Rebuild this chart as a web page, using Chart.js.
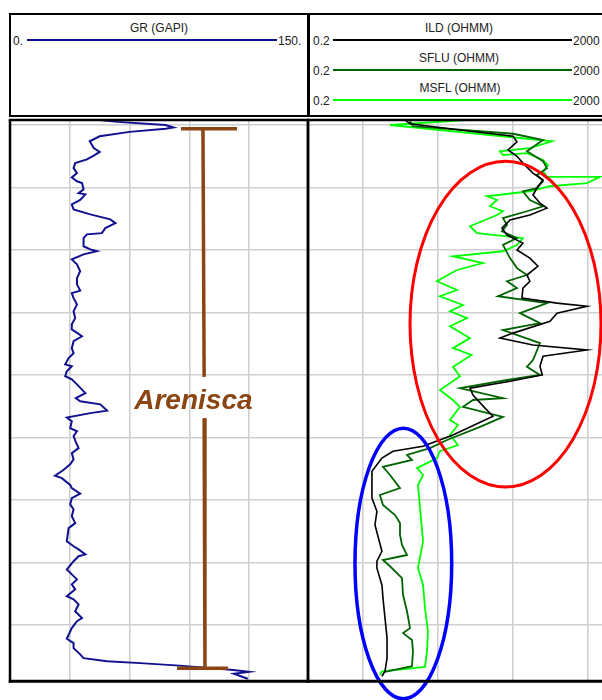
<!DOCTYPE html>
<html>
<head>
<meta charset="utf-8">
<script src="https://cdn.jsdelivr.net/npm/chart.js@4.4.0/dist/chart.umd.min.js"></script>
<style>
  html, body { margin: 0; padding: 0; background: #fff; }
  #page { position: relative; width: 602px; height: 700px; overflow: hidden;
          font-family: "Liberation Sans", Arial, sans-serif; font-size: 12px; color: #222; }
  .box { position: absolute; box-sizing: border-box; }
  .hline { position: absolute; height: 2px; }
  .lbl { position: absolute; line-height: 12px; white-space: nowrap; }
  .ctr { width: 200px; text-align: center; }
  canvas { position: absolute; }
</style>
</head>
<body>
<div id="page">
  <!-- cabeçalho -->
  <div class="box" style="left:9px;top:13px;width:640px;height:104px;border-top:2px solid #000;border-bottom:2px solid #000;border-left:2.5px solid #000;"></div>
  <div class="box" style="left:307px;top:13px;width:2.5px;height:104px;background:#000;"></div>

  <div class="lbl ctr" style="left:59px;top:22px;">GR (GAPI)</div>
  <div class="lbl" style="left:13px;top:35px;">0.</div>
  <div class="hline" style="left:27px;top:38.5px;width:250px;background:#101090;"></div>
  <div class="lbl" style="left:278px;top:35px;">150.</div>

  <div class="lbl ctr" style="left:359px;top:22px;">ILD (OHMM)</div>
  <div class="lbl" style="left:313px;top:35px;">0.2</div>
  <div class="hline" style="left:333px;top:38.5px;width:239px;background:#000;"></div>
  <div class="lbl" style="left:573px;top:35px;">2000</div>

  <div class="lbl ctr" style="left:359px;top:52px;">SFLU (OHMM)</div>
  <div class="lbl" style="left:313px;top:65px;">0.2</div>
  <div class="hline" style="left:333px;top:68.5px;width:239px;background:#006400;"></div>
  <div class="lbl" style="left:573px;top:65px;">2000</div>

  <div class="lbl ctr" style="left:360px;top:82px;">MSFL (OHMM)</div>
  <div class="lbl" style="left:313px;top:95px;">0.2</div>
  <div class="hline" style="left:333px;top:98.5px;width:239px;background:#00ff00;"></div>
  <div class="lbl" style="left:573px;top:95px;">2000</div>

  <canvas id="trilhaGR" width="312" height="590" style="left:0px;top:110px;"></canvas>
  <canvas id="trilhaRes" width="320" height="590" style="left:300px;top:110px;"></canvas>
</div>

<script>
// --- eixos ---
const depthTop = 1999.2;
const depthBase = 2088.8;
const depthTicks = [2000, 2010, 2020, 2030, 2040, 2050, 2060, 2070, 2080];
const grTicks = [30, 60, 90, 120];
const resTicks = [1, 10, 100, 1000];

// --- GR (GAPI) ---
const grDepth = [1999.2, 1999.5, 2000.0, 2000.4, 2000.6, 2001.1, 2001.8, 2002.6, 2003.7, 2004.3, 2004.9, 2005.5,
  2006.1, 2006.9, 2007.7, 2008.4, 2009.0, 2009.3, 2010.3, 2010.9, 2011.1, 2012.0, 2012.7, 2013.5, 2014.3, 2015.1,
  2015.7, 2016.5, 2017.3, 2017.5, 2018.1, 2019.4, 2019.9, 2020.2, 2020.7, 2021.5, 2022.3, 2023.4, 2024.5, 2025.5,
  2026.5, 2026.9, 2027.7, 2028.7, 2029.8, 2030.9, 2031.9, 2032.7, 2033.8, 2034.6, 2035.7, 2036.5, 2037.3, 2038.3,
  2038.6, 2039.4, 2040.2, 2040.7, 2041.5, 2042.9, 2043.7, 2044.2, 2044.7, 2045.7, 2046.1, 2046.8, 2047.4, 2048.5,
  2049.0, 2049.8, 2050.7, 2051.7, 2052.5, 2053.5, 2054.3, 2055.2, 2056.1, 2056.5, 2057.6, 2058.1, 2059.0, 2059.7,
  2060.7, 2061.5, 2062.6, 2063.7, 2064.5, 2066.6, 2067.4, 2067.9, 2068.7, 2069.0, 2069.8, 2071.1, 2071.9, 2072.7,
  2073.5, 2074.3, 2075.4, 2075.9, 2076.7, 2077.8, 2078.9, 2079.4, 2080.5, 2082.2, 2082.9, 2083.7, 2084.7, 2085.3,
  2085.8, 2086.1, 2086.5, 2087.2, 2087.5, 2087.8, 2088.6];
const grValue = [45, 54, 78, 82, 78, 60, 45, 40, 42, 45, 42, 38.6,
  32.7, 31.9, 33.6, 31.0, 33.6, 36.1, 36.9, 34.4, 37.8, 35.2, 31.0, 31.9, 40.3, 50.3,
  52.9, 47.8, 46.1, 38.6, 36.9, 36.9, 40.3, 43.6, 36.9, 31.0, 33.6, 35.2, 33.6, 33.6,
  35.2, 31.0, 31.9, 33.6, 31.9, 32.7, 31.0, 31.0, 36.1, 31.9, 31.0, 31.9, 29.4, 27.7,
  31.0, 28.5, 27.7, 31.0, 33.6, 37.8, 33.0, 35.2, 45.3, 48.7, 40.3, 28.5, 31.0, 30.2,
  33.6, 31.9, 33.0, 34.4, 31.0, 31.9, 30.2, 26.8, 22.6, 26.0, 30.2, 31.0, 35.2, 31.0,
  30.2, 31.9, 31.0, 32.7, 29.4, 28.5, 31.9, 34.4, 37.8, 34.4, 31.9, 28.5, 31.0, 33.6,
  31.0, 32.7, 28.5, 31.9, 34.4, 32.7, 36.1, 33.6, 31.0, 28.5, 31.9, 31.9, 35.2, 36.9,
  48.7, 65.4, 85, 112, 119.8, 112.3, 119.3];

// --- ILD (OHMM) ---
const ildDepth = [1999.2, 1999.8, 2000.8, 2001.8, 2002.7, 2004.0, 2005.0, 2006.1, 2007.7, 2008.8, 2009.8, 2011.2,
  2012.5, 2013.3, 2014.4, 2015.2, 2016.5, 2017.6, 2018.9, 2020.0, 2021.3, 2022.6, 2024.0, 2025.0, 2026.1, 2027.7,
  2028.5, 2029.0, 2030.1, 2031.4, 2033.3, 2034.1, 2035.2, 2036.0, 2037.0, 2038.6, 2040.0, 2041.0, 2042.1, 2043.2,
  2045.3, 2046.6, 2049.6, 2051.4, 2052.2, 2053.3, 2055.4, 2059.7, 2061.8, 2064.0, 2068.2, 2069.8, 2070.9, 2073.6,
  2075.7, 2078.9, 2082.1, 2085.3, 2087.4, 2088.2];
const ildValue = [3.7, 4.31, 20.0, 102, 115, 87.3, 115, 138, 188, 256, 219, 188,
  233, 289, 171, 92.9, 72.6, 84.7, 138, 115, 171, 219, 156, 171, 138, 134,
  393, 986, 393, 317, 102, 68.2, 188, 986, 256, 233, 250, 92.9, 27.2, 29.8,
  43.1, 55.1, 16.1, 6.43, 2.56, 1.82, 1.34, 1.34, 1.56, 1.47, 1.82, 1.56, 1.56, 1.82,
  1.88, 2.0, 2.13, 2.13, 2.0, 1.82];

// --- SFLU (OHMM) ---
const sfluDepth = [1999.4, 2000.2, 2001.4, 2002.4, 2004.2, 2005.8, 2006.9, 2008.0, 2009.0, 2010.1, 2010.6, 2012.0,
  2013.0, 2013.8, 2014.9, 2016.0, 2017.0, 2018.1, 2019.2, 2021.3, 2022.9, 2024.0, 2025.0, 2026.1, 2027.4, 2028.5,
  2030.1, 2031.7, 2032.8, 2034.9, 2037.6, 2038.7, 2040.0, 2040.8, 2042.1, 2043.7, 2044.0, 2045.1, 2046.7, 2048.3,
  2050.4, 2051.7, 2052.8, 2053.6, 2054.7, 2056.0, 2058.1, 2059.2, 2060.8, 2062.4, 2063.7, 2065.6, 2067.2, 2068.8,
  2069.6, 2070.6, 2072.5, 2075.2, 2077.8, 2080.5, 2081.3, 2082.4, 2084.2, 2086.6, 2087.5];
const sfluValue = [4.31, 4.72, 102, 256, 156, 256, 289, 213, 256, 213, 138, 171,
  256, 156, 74.8, 84.7, 72.6, 115, 74.8, 92.9, 115, 156, 84.7, 115, 64.2, 289,
  126, 233, 74.8, 233, 188, 156, 233, 84.7, 20.0, 74.8, 29.8, 21.9, 74.8, 37.0,
  13.4, 7.96, 3.93, 4.58, 1.88, 2.33, 3.17, 1.71, 1.88, 2.72, 3.17, 3.17, 3.37, 3.93,
  1.88, 2.33, 3.37, 3.48, 3.93, 4.31, 3.48, 4.58, 4.72, 4.58, 2.0];

// --- MSFL (OHMM) ---
const msflDepth = [1999.2, 2000.0, 2002.6, 2003.7, 2004.2, 2004.8, 2004.5, 2005.6, 2006.4, 2007.4, 2008.3, 2008.3,
  2009.3, 2009.8, 2010.6, 2011.4, 2012.0, 2013.0, 2013.8, 2014.4, 2016.2, 2017.3, 2018.1, 2019.2, 2020.2, 2021.0,
  2022.1, 2023.2, 2025.0, 2026.4, 2027.4, 2028.8, 2029.8, 2030.9, 2032.2, 2034.1, 2035.7, 2036.8, 2038.7, 2040.2,
  2042.4, 2044.0, 2045.1, 2047.2, 2048.0, 2049.6, 2051.2, 2052.2, 2053.3, 2054.9, 2056.0, 2057.6, 2061.3, 2066.6,
  2070.9, 2073.6, 2077.3, 2081.0, 2084.2, 2086.7, 2087.4, 2088.0];
const msflValue = [24.8, 2.33, 337, 171, 68.2, 74.8, 156, 256, 298, 256, 289, 1472,
  986, 317, 171, 45.8, 62.3, 50.2, 74.8, 62.3, 27.2, 33.7, 138, 115, 74.8, 16.1,
  40.5, 18.2, 9.86, 18.2, 10.8, 21.9, 14.7, 24.8, 14.7, 27.2, 16.1, 28.5, 16.1, 20.0,
  10.8, 16.1, 20.0, 14.7, 18.8, 14.7, 18.8, 10.8, 9.86, 5.35, 6.43, 5.51, 5.86, 6.43,
  5.51, 6.43, 6.83, 7.48, 7.26, 6.83, 1.82, 1.71];

// --- anotações (em unidades de dados) ---
const arenText = 'Arenisca';
const arenAt = [92, 2044.2];                         // [GR, prof]
const bracketCapTop = [[85.8, 2000.6], [113.9, 2000.6]];
const bracketUpper = [[96.8, 2000.6], [97.4, 2040.3]];
const bracketLower = [[97.4, 2046.9], [97.8, 2086.9]];
const bracketCapBase = [[83.8, 2086.9], [109.4, 2086.9]];
const redOval = [4.31, 1517, 2005.8, 2057.9];        // [res min, res max, prof topo, prof base]
const blueOval = [0.796, 15.5, 2048.5, 2091.8];

function pontos(prof, valores) {
    return prof.map((p, i) => ({ x: valores[i], y: p }));
}
function segmento(par) {
    return par.map(p => ({ x: p[0], y: p[1] }));
}

// moldura preta das trilhas
const molduraPlugin = {
    id: 'moldura',
    afterDraw(chart, args, opts) {
        const { ctx, chartArea: a, width } = chart;
        const x0 = opts.lado === 'esq' ? a.left - 1.25 : a.left - 3.25;
        const x1 = opts.lado === 'esq' ? a.right : width;
        ctx.save();
        ctx.strokeStyle = '#000';
        ctx.lineWidth = 2.3;
        ctx.beginPath(); ctx.moveTo(x0, a.top); ctx.lineTo(x1, a.top); ctx.stroke();
        ctx.lineWidth = 3;
        ctx.beginPath(); ctx.moveTo(x0, a.bottom + 1.3); ctx.lineTo(x1, a.bottom + 1.3); ctx.stroke();
        ctx.lineWidth = 2.5;
        if (opts.lado === 'esq') {
            ctx.beginPath(); ctx.moveTo(a.left, a.top); ctx.lineTo(a.left, a.bottom + 2.8); ctx.stroke();
            ctx.beginPath(); ctx.moveTo(a.right - 1, a.top); ctx.lineTo(a.right - 1, a.bottom + 2.8); ctx.stroke();
        } else {
            ctx.beginPath(); ctx.moveTo(a.left - 2, a.top); ctx.lineTo(a.left - 2, a.bottom + 2.8); ctx.stroke();
        }
        ctx.restore();
    }
};

// texto "Arenisca"
const textoPlugin = {
    id: 'textoAren',
    afterDatasetsDraw(chart) {
        const { ctx, scales: { x, y } } = chart;
        ctx.save();
        ctx.font = 'italic bold 28px "Liberation Sans", Arial, sans-serif';
        ctx.fillStyle = '#8b4513';
        ctx.textAlign = 'center';
        ctx.textBaseline = 'middle';
        ctx.fillText(arenText, x.getPixelForValue(arenAt[0]), y.getPixelForValue(arenAt[1]));
        ctx.restore();
    }
};

// elipses vermelha e azul
const elipsesPlugin = {
    id: 'elipses',
    afterDatasetsDraw(chart) {
        const { ctx, scales: { x, y } } = chart;
        [[redOval, '#ff0000', 3], [blueOval, '#0000ff', 3.5]].forEach(([o, cor, lw]) => {
            const xa = x.getPixelForValue(o[0]), xb = x.getPixelForValue(o[1]);
            const ya = y.getPixelForValue(o[2]), yb = y.getPixelForValue(o[3]);
            ctx.save();
            ctx.strokeStyle = cor;
            ctx.lineWidth = lw;
            ctx.beginPath();
            ctx.ellipse((xa + xb) / 2, (ya + yb) / 2, Math.abs(xb - xa) / 2, Math.abs(yb - ya) / 2, 0, 0, Math.PI * 2);
            ctx.stroke();
            ctx.restore();
        });
    }
};

const grade = { color: '#cfcfcf', lineWidth: 1.6, drawTicks: false };

function eixoProf() {
    return {
        type: 'linear', reverse: true, min: depthTop, max: depthBase,
        grid: grade, border: { display: false }, ticks: { display: false },
        afterBuildTicks: s => { s.ticks = depthTicks.map(v => ({ value: v })); }
    };
}

function curva(dados, cor, larg, ordem) {
    return { data: dados, borderColor: cor, borderWidth: larg, pointRadius: 0, showLine: true,
             tension: 0, fill: false, order: ordem };
}

const brown = '#8b4513';

new Chart(document.getElementById('trilhaGR'), {
    type: 'scatter',
    data: {
        datasets: [
            curva(segmento(bracketCapTop), brown, 3.5, 0),
            curva(segmento(bracketUpper), brown, 3.5, 0),
            curva(segmento(bracketLower), brown, 3.5, 0),
            curva(segmento(bracketCapBase), brown, 3.5, 0),
            curva(pontos(grDepth, grValue), '#101090', 2, 1)
        ]
    },
    options: {
        responsive: false, animation: false, events: [],
        layout: { padding: { left: 10, right: 3, top: 10, bottom: 20 } },
        plugins: { legend: { display: false }, tooltip: { enabled: false }, moldura: { lado: 'esq' } },
        scales: {
            x: {
                type: 'linear', min: 0, max: 150,
                grid: grade, border: { display: false }, ticks: { display: false },
                afterBuildTicks: s => { s.ticks = grTicks.map(v => ({ value: v })); }
            },
            y: eixoProf()
        }
    },
    plugins: [textoPlugin, molduraPlugin]
});

new Chart(document.getElementById('trilhaRes'), {
    type: 'scatter',
    data: {
        datasets: [
            curva(pontos(ildDepth, ildValue), '#000000', 1.6, 0),
            curva(pontos(sfluDepth, sfluValue), '#006400', 1.8, 1),
            curva(pontos(msflDepth, msflValue), '#00ff00', 1.8, 2)
        ]
    },
    options: {
        responsive: false, animation: false, events: [],
        layout: { padding: { left: 10, right: 10, top: 10, bottom: 20 } },
        plugins: { legend: { display: false }, tooltip: { enabled: false }, moldura: { lado: 'dir' } },
        scales: {
            x: {
                type: 'logarithmic', min: 0.2, max: 2000,
                grid: grade, border: { display: false }, ticks: { display: false },
                afterBuildTicks: s => { s.ticks = resTicks.map(v => ({ value: v })); }
            },
            y: eixoProf()
        }
    },
    plugins: [elipsesPlugin, molduraPlugin]
});
</script>
</body>
</html>
